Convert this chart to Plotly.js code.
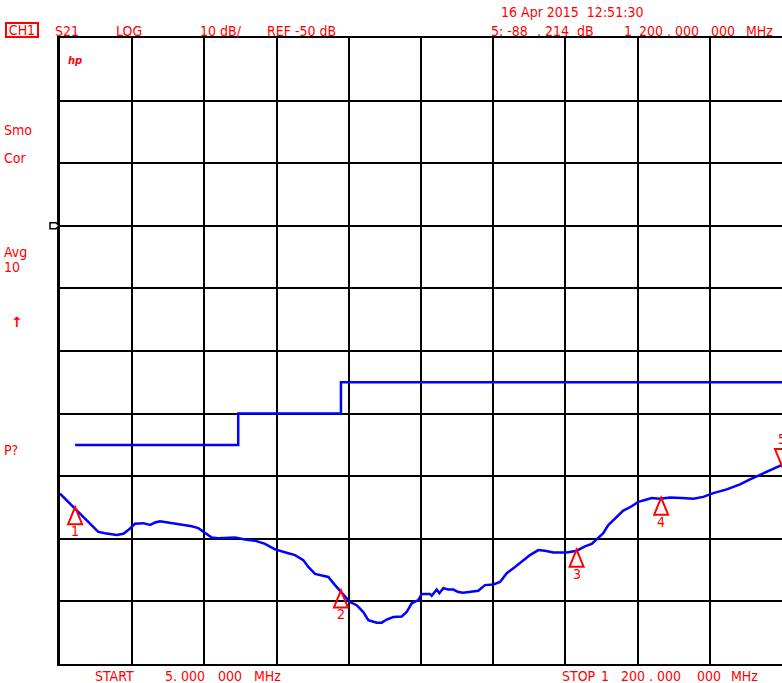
<!DOCTYPE html>
<html><head><meta charset="utf-8">
<script src="https://cdn.plot.ly/plotly-3.0.1.min.js"></script>
<style>html,body{margin:0;padding:0;background:#fff;overflow:hidden}#chart{width:782px;height:683px}</style>
</head><body><div id="chart"></div>
<script>
// ---- instrument settings ----
const START_MHZ = 5, STOP_MHZ = 1200;
const REF_DB = -50, DB_PER_DIV = 10, REF_DIV_FROM_TOP = 3, N_DIV = 10;

// ---- measured S21 trace (MHz, dB) ----
const traceFreq = [5, 18.7, 29.8, 46.4, 68.4, 79.5, 98.8, 109.8, 118, 129.1, 142.9, 154, 162.2, 170.5, 189.9, 206.4, 223, 233.9, 245, 256.1, 267, 294.6, 311.2, 327.7, 344.3, 360.9, 382.9, 394, 407.7, 416, 427.1, 438.1, 449.1, 460.2, 468.4, 476.7, 485, 496.1, 507, 515.3, 529.2, 537.5, 545.7, 556.6, 570.6, 578.8, 587.1, 598, 603.7, 617.4, 620.2, 628.5, 632.8, 639.4, 647.7, 656, 664.2, 672.5, 683.6, 697.3, 708.4, 722.2, 733.3, 744.4, 758.1, 769.2, 782.9, 796.7, 807.7, 821.5, 843.6, 860.2, 873.9, 885, 893.3, 904.2, 912.5, 923.6, 937.3, 951.2, 962.1, 973.2, 984.3, 998.1, 1014.6, 1034, 1053.2, 1069.7, 1086.3, 1108.5, 1130.5, 1147, 1163.6, 1180.1, 1200];
const traceDb = [-92.8, -94.1, -95.1, -96.7, -98.9, -99.1, -99.4, -99.2, -98.6, -97.6, -97.5, -97.8, -97.4, -97.2, -97.5, -97.8, -98.0, -98.3, -99.1, -99.8, -99.9, -99.8, -100.1, -100.3, -100.8, -101.7, -102.3, -102.6, -103.4, -104.5, -105.6, -105.8, -106.1, -107.4, -108.3, -109.3, -110.1, -110.6, -111.7, -113.0, -113.4, -113.4, -112.9, -112.5, -112.4, -111.7, -110.3, -109.8, -108.8, -108.8, -109.1, -108.1, -108.7, -107.9, -108.1, -108.1, -108.5, -108.6, -108.5, -108.3, -107.4, -107.3, -106.9, -105.5, -104.5, -103.7, -102.6, -101.8, -101.9, -102.2, -102.2, -101.9, -101.2, -100.8, -100.1, -99.1, -97.8, -96.7, -95.5, -94.8, -94.1, -93.8, -93.5, -93.6, -93.4, -93.5, -93.6, -93.3, -92.7, -92.1, -91.3, -90.5, -89.8, -89.0, -88.2];

// ---- limit line (stepped) ----
const limitFreq = [30, 300, 470, 1200];
const limitDb = [-85, -80, -75, -75];

// ---- markers ----
const markerLabels = ['1', '2', '3', '4', '5'];
const markerFreq = [30, 470, 860, 1000, 1200];
const markerDb = [-95.1, -108.4, -101.9, -93.6, -88.214];
const markerPointsDown = [false, false, false, false, true];

// ---- annotation texts ----
const RED = '#ff0000';
const FONT = 'Liberation Sans Narrow, Arial Narrow, DejaVu Sans Condensed, Liberation Sans, sans-serif';
const dateText = '16 Apr 2015\u00a0\u00a012:51:30';
const headerTexts = [
  ['S21', 55, 31], ['LOG', 116, 31], [DB_PER_DIV + ' dB/', 200, 31], ['REF ' + REF_DB + ' dB', 267, 31],
  [dateText, 501, 12],
  ['5: -88', 491, 31], ['. 214', 537, 31], ['dB', 577, 31],
  ['1', 624, 31], ['200 . 000', 639, 31], ['000', 711, 31], ['MHz', 746, 31]
];
const sideTexts = [['Smo', 4, 130], ['Cor', 4, 158], ['Avg', 4, 252], ['10', 4, 267], ['P?', 4, 450]];
const footerTexts = [['START', 95, 676], ['5. 000', 165, 676], ['000', 218, 676], ['MHz', 254, 676],
  ['STOP', 562, 676], ['1', 601, 676], ['200 . 000', 621, 676], ['000', 697, 676], ['MHz', 731, 676]];

// plot area in pixels
const L = 60, T = 38, W = 722, H = 626;
const px = x => (x - L) / W;
const py = y => (T + H - y) / H;

const topDb = REF_DB + REF_DIV_FROM_TOP * DB_PER_DIV;
const botDb = topDb - N_DIV * DB_PER_DIV;

const annotations = [];
function txt(t, x, y, extra) {
  annotations.push(Object.assign({text: t, xref: 'paper', yref: 'paper', x: px(x), y: py(y),
    xanchor: 'left', yanchor: 'middle', showarrow: false, borderpad: 0, borderwidth: 0,
    font: {family: FONT, size: 14, color: RED}}, extra || {}));
}
headerTexts.forEach(a => txt(a[0], a[1], a[2]));
sideTexts.forEach(a => txt(a[0], a[1], a[2]));
footerTexts.forEach(a => txt(a[0], a[1], a[2]));
txt('CH1', 22, 30.5, {xanchor: 'center', bordercolor: RED, borderwidth: 2, borderpad: 0, width: 30, height: 12,
  font: {family: FONT, size: 14, color: RED}});
txt('<b><i>hp</i></b>', 74.5, 60.5, {xanchor: 'center', font: {family: 'DejaVu Sans', size: 10, color: RED}});
txt('<b>\u2191</b>', 17, 322, {xanchor: 'center', font: {family: 'DejaVu Sans', size: 14, color: RED}});

// marker numbers
markerLabels.forEach((lab, i) => {
  annotations.push({text: lab, x: markerFreq[i], y: markerDb[i], xref: 'x', yref: 'y', showarrow: false,
    xanchor: 'center', yanchor: 'middle', yshift: markerPointsDown[i] ? 26 : -23,
    font: {family: FONT, size: 14, color: RED}});
});

// marker triangles (pixel-sized, anchored on the trace)
const shapes = markerLabels.map((lab, i) => ({
  type: 'path', xref: 'x', yref: 'y', xsizemode: 'pixel', ysizemode: 'pixel',
  xanchor: markerFreq[i], yanchor: markerDb[i],
  path: markerPointsDown[i] ? 'M0,-1L-7,16L7,16Z' : 'M0,1L-7,-16L7,-16Z',
  line: {color: RED, width: 2}, fillcolor: 'rgba(0,0,0,0)', layer: 'above'
}));
// reference level pointer
shapes.push({type: 'path', xref: 'paper', yref: 'y', xsizemode: 'pixel', ysizemode: 'pixel',
  xanchor: 0, yanchor: REF_DB, path: 'M-10,3L-4,3L-1,0L-4,-3L-10,-3Z',
  line: {color: '#000', width: 1.5}, fillcolor: '#fff', layer: 'above'});

const data = [
  {x: limitFreq, y: limitDb, type: 'scatter', mode: 'lines', line: {color: '#0000ff', width: 2.5, shape: 'hv'}, hoverinfo: 'skip'},
  {x: traceFreq, y: traceDb, type: 'scatter', mode: 'lines', line: {color: '#0000ff', width: 2.5}, hoverinfo: 'skip'}
];

const axisCommon = {showticklabels: false, ticks: '', showgrid: true, gridcolor: '#000', gridwidth: 2,
  showline: true, linecolor: '#000', linewidth: 2, mirror: true, zeroline: false, fixedrange: true};

const layout = {
  width: 782, height: 683, margin: {l: L, r: 0, t: T, b: 683 - T - H, pad: 0},
  paper_bgcolor: '#fff', plot_bgcolor: '#fff', showlegend: false,
  font: {family: FONT, size: 14, color: RED},
  xaxis: Object.assign({range: [START_MHZ, STOP_MHZ], tick0: START_MHZ, dtick: (STOP_MHZ - START_MHZ) / N_DIV}, axisCommon),
  yaxis: Object.assign({range: [botDb, topDb], tick0: botDb, dtick: DB_PER_DIV}, axisCommon, {linewidth: 3}),
  shapes: shapes, annotations: annotations
};

Plotly.newPlot('chart', data, layout, {displayModeBar: false, staticPlot: true});
</script></body></html>
